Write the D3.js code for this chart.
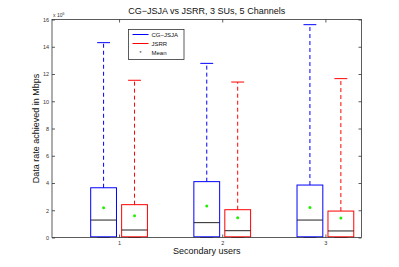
<!DOCTYPE html>
<html>
<head>
<meta charset="utf-8">
<script src="https://d3js.org/d3.v7.min.js"></script>
<style>
body { margin: 0; background: #fff; }
svg { font-family: "Liberation Sans", Arial, sans-serif; }
</style>
</head>
<body>
<svg id="chart" width="399" height="267"></svg>
<script>
// data in units of 1e6
var groups = [1, 2, 3];
var seriesNames = ["CG\u2212JSJA", "JSRR"];
var seriesColors = ["#0000ff", "#ff0000"];
var yTicks = [0, 2, 4, 6, 8, 10, 12, 14, 16];

var whiskLow = [[0, 0, 0], [0, 0, 0]];
var q1 = [[0.05, 0.05, 0.05], [0.05, 0.05, 0.05]];
var medians = [[1.28, 1.09, 1.28], [0.55, 0.5, 0.48]];
var q3 = [[3.65, 4.1, 3.85], [2.41, 2.04, 1.94]];
var whiskHigh = [[14.3, 12.78, 15.62], [11.54, 11.41, 11.66]];
var means = [[2.19, 2.31, 2.21], [1.6, 1.45, 1.43]];

var margin = {left: 52, top: 19.5, right: 37.5, bottom: 29.5};
var W = 399, H = 267;
var svg = d3.select("#chart");

var x = d3.scaleLinear().domain([0.35, 3.35]).range([margin.left, W - margin.right]);
var y = d3.scaleLinear().domain([0, 16]).range([H - margin.bottom, margin.top]);

var offsets = [-0.15, 0.15];
var boxW = 0.25;
var axisColor = "#333";

// boxes
seriesNames.forEach(function(name, s) {
	var g = svg.append("g");
	var col = seriesColors[s];
	groups.forEach(function(gr, i) {
		var cx = x(gr + offsets[s]);
		var bw = x(boxW) - x(0);
		// whiskers
		g.append("line")
			.attr("x1", cx).attr("x2", cx)
			.attr("y1", y(q3[s][i])).attr("y2", y(whiskHigh[s][i]))
			.attr("stroke", col).attr("stroke-width", 1)
			.attr("stroke-dasharray", "4,3");
		g.append("line")
			.attr("x1", cx - bw / 4).attr("x2", cx + bw / 4)
			.attr("y1", y(whiskHigh[s][i])).attr("y2", y(whiskHigh[s][i]))
			.attr("stroke", col).attr("stroke-width", 1);
		g.append("line")
			.attr("x1", cx - bw / 4).attr("x2", cx + bw / 4)
			.attr("y1", y(whiskLow[s][i])).attr("y2", y(whiskLow[s][i]))
			.attr("stroke", col).attr("stroke-width", 1);
		g.append("rect")
			.attr("x", cx - bw / 2).attr("width", bw)
			.attr("y", y(q3[s][i])).attr("height", y(q1[s][i]) - y(q3[s][i]))
			.attr("fill", "none").attr("stroke", col).attr("stroke-width", 1);
		g.append("line")
			.attr("x1", cx - bw / 2).attr("x2", cx + bw / 2)
			.attr("y1", y(medians[s][i])).attr("y2", y(medians[s][i]))
			.attr("stroke", "#222").attr("stroke-width", 1);
		g.append("circle")
			.attr("cx", cx).attr("cy", y(means[s][i])).attr("r", 1.5)
			.attr("fill", "#22ee00");
	});
});

// axes frame
var frame = svg.append("g");
frame.append("rect")
	.attr("x", margin.left).attr("y", margin.top)
	.attr("width", W - margin.left - margin.right)
	.attr("height", H - margin.top - margin.bottom)
	.attr("fill", "none").attr("stroke", axisColor).attr("stroke-width", 0.8);

var yAxisL = d3.axisLeft(y).tickValues(yTicks).tickSizeInner(-3).tickSizeOuter(0).tickPadding(3);
var yAxisR = d3.axisRight(y).tickValues(yTicks).tickSizeInner(-3).tickSizeOuter(0).tickFormat("");
var xAxisB = d3.axisBottom(x).tickValues(groups).tickFormat(d3.format("d"))
	.tickSizeInner(-3).tickSizeOuter(0).tickPadding(3.5);
var xAxisT = d3.axisTop(x).tickValues(groups).tickSizeInner(-3).tickSizeOuter(0).tickFormat("");

[
	[yAxisL, "translate(" + margin.left + ",0)"],
	[yAxisR, "translate(" + (W - margin.right) + ",0)"],
	[xAxisB, "translate(0," + (H - margin.bottom) + ")"],
	[xAxisT, "translate(0," + margin.top + ")"]
].forEach(function(a) {
	var ax = svg.append("g").attr("transform", a[1]).call(a[0]);
	ax.select(".domain").remove();
	ax.selectAll("line").attr("stroke", axisColor).attr("stroke-width", 0.8);
	ax.selectAll("text").attr("font-size", 5.5).attr("fill", "#333")
		.attr("font-family", "Liberation Sans, Arial, sans-serif");
});

// exponent label
var ex = svg.append("text").attr("x", margin.left + 1).attr("y", margin.top - 3)
	.attr("font-size", 5).attr("fill", "#333");
ex.append("tspan").text("x 10");
ex.append("tspan").attr("dy", -2).attr("font-size", 3.5).text("6");

// title and labels
svg.append("text").attr("x", (margin.left + W - margin.right) / 2).attr("y", 14)
	.attr("text-anchor", "middle").attr("font-size", 9).attr("fill", "#111")
	.text("CG\u2212JSJA vs JSRR, 3 SUs, 5 Channels");
svg.append("text").attr("x", (margin.left + W - margin.right) / 2).attr("y", 254)
	.attr("text-anchor", "middle").attr("font-size", 9).attr("fill", "#111")
	.text("Secondary users");
svg.append("text")
	.attr("transform", "translate(39," + ((margin.top + H - margin.bottom) / 2) + ") rotate(-90)")
	.attr("text-anchor", "middle").attr("font-size", 9).attr("fill", "#111")
	.text("Data rate achieved in Mbps");

// legend
var lg = svg.append("g").attr("transform", "translate(128.5,29.5)");
lg.append("rect").attr("width", 55.5).attr("height", 30)
	.attr("fill", "#fff").attr("stroke", axisColor).attr("stroke-width", 0.8);
seriesNames.forEach(function(name, s) {
	var ly = 5 + s * 9;
	lg.append("line").attr("x1", 4).attr("x2", 20).attr("y1", ly).attr("y2", ly)
		.attr("stroke", seriesColors[s]).attr("stroke-width", 1);
	lg.append("text").attr("x", 23).attr("y", ly + 2).attr("font-size", 6).attr("fill", "#111").text(name);
});
lg.append("text").attr("x", 12).attr("y", 25.5).attr("text-anchor", "middle")
	.attr("font-size", 5).attr("fill", "#111").text("*");
lg.append("text").attr("x", 23).attr("y", 25.3).attr("font-size", 6).attr("fill", "#111").text("Mean");
</script>
</body>
</html>
